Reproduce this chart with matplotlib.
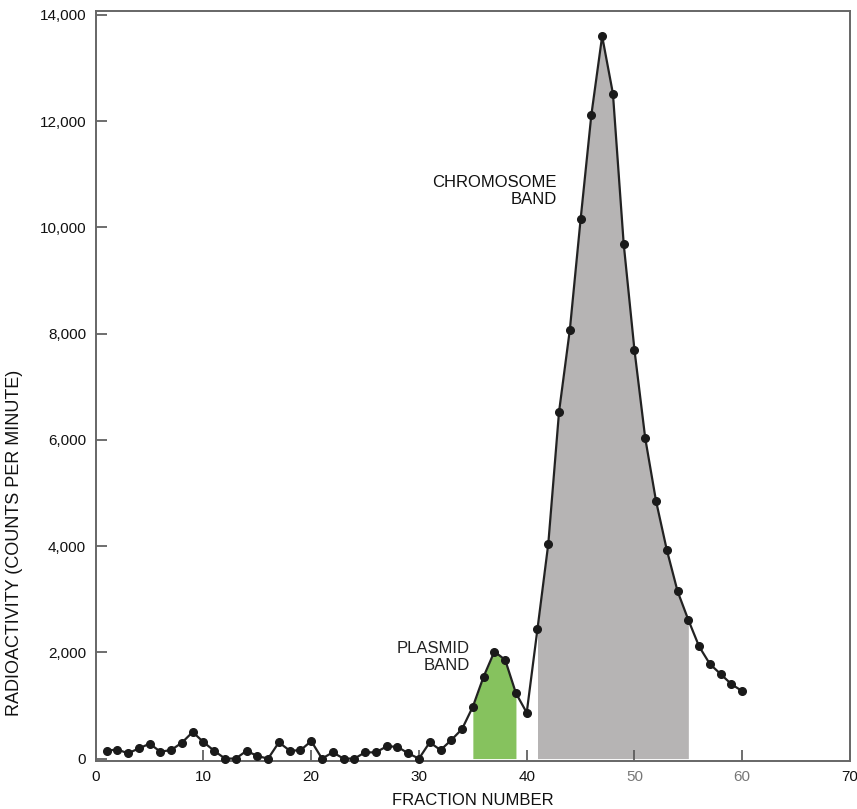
import numpy as np
import matplotlib.pyplot as plt

# radioactivity per fraction, fractions 1..60
fractions = np.arange(1, 61)
counts = np.array([
    150, 170, 100, 190, 280, 130, 160, 300, 500, 310,
    145, 0, 0, 147, 47, 0, 306, 150, 155, 330,
    0, 117, 0, 0, 117, 117, 230, 223, 98, 0,
    306, 160, 349, 557, 977, 1543, 2015, 1858, 1230, 864,
    2443, 4040, 6530, 8070, 10150, 12120, 13600, 12520, 9690, 7690,
    6030, 4850, 3930, 3150, 2610, 2110, 1780, 1590, 1400, 1270,
])

plasmid_band = (35, 39)
chromosome_band = (41, 55)

x_ticks = [0, 10, 20, 30, 40, 50, 60, 70]
y_ticks = [0, 2000, 4000, 6000, 8000, 10000, 12000, 14000]
y_ticklabels = ['0', '2,000', '4,000', '6,000', '8,000', '10,000', '12,000', '14,000']

plt.rcParams['font.family'] = ['Liberation Sans', 'DejaVu Sans']

fig = plt.figure(figsize=(8.57, 8.09), dpi=100)
ax = fig.add_axes([0.1117, 0.0597, 0.8801, 0.9271])

in_plasmid = (fractions >= plasmid_band[0]) & (fractions <= plasmid_band[1])
in_chrom = (fractions >= chromosome_band[0]) & (fractions <= chromosome_band[1])
ax.fill_between(fractions, 0, counts, where=in_plasmid, color='#86c25e', lw=0)
ax.fill_between(fractions, 0, counts, where=in_chrom, color='#b6b4b4', lw=0)

ax.plot(fractions, counts, color='#222222', lw=1.6, marker='o', ms=5.5,
        mfc='#1a1a1a', mec='#1a1a1a', clip_on=False, zorder=3)

ax.text(42.8, 10680, 'CHROMOSOME\nBAND', ha='right', va='center',
        multialignment='right', linespacing=1.15, fontsize=12, color='#111111')
ax.text(34.7, 1911, 'PLASMID\nBAND', ha='right', va='center',
        multialignment='right', linespacing=1.15, fontsize=12, color='#222222')

ax.set_xlim(0, 70)
ax.set_ylim(-40, 14080)
ax.set_xticks(x_ticks)
ax.set_yticks(y_ticks)
ax.set_yticklabels(y_ticklabels)
ax.tick_params(direction='in', length=8, width=1.2, color='#555555',
               labelsize=11, pad=7, labelcolor='#111111')
for lbl in ax.get_xticklabels():
    if lbl.get_text() in ('50', '60'):
        lbl.set_color('#777777')

for side in ax.spines.values():
    side.set_color('#666666')
    side.set_linewidth(1.4)

ax.set_xlabel('FRACTION NUMBER', fontsize=12, labelpad=6, color='#111111')
ax.set_ylabel('RADIOACTIVITY (COUNTS PER MINUTE)', fontsize=13, color='#111111')
ax.yaxis.set_label_coords(-0.096, 0.29)

fig.savefig('out.png', dpi=100)
